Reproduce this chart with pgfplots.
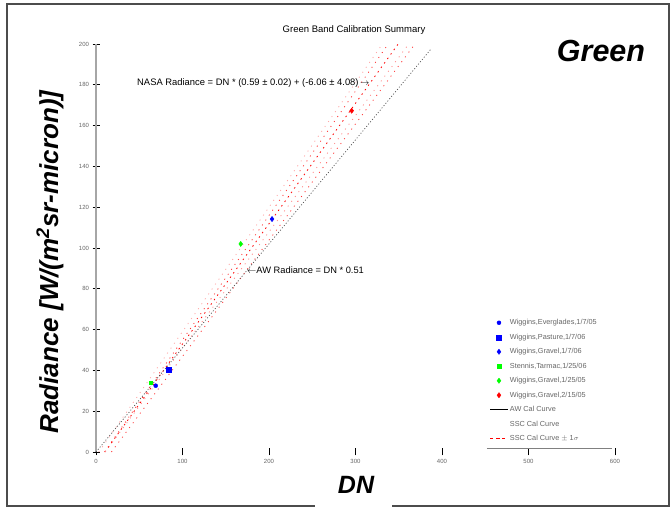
\documentclass[border=0pt]{standalone}
\usepackage{pgfplots}
\pgfplotsset{compat=1.18}
\usepackage{fontspec}
\setmainfont{Liberation Sans}
\begin{document}
\begin{tikzpicture}
\useasboundingbox (0pt,0pt) rectangle (671pt,508pt);
\fill[white] (0pt,0pt) rectangle (671pt,508pt);
\draw[black!70, line width=1.2pt] (7pt,2pt) rectangle (669pt,504pt);
\fill[white] (315pt,0pt) rectangle (392pt,4pt);
\node[font=\fontsize{9.5}{11}\selectfont] at (354pt,478pt) {Green Band Calibration Summary};
\node[font=\fontsize{30.5}{33}\bfseries\itshape] at (601pt,457pt) {Green};
\node[font=\fontsize{26}{29}\bfseries\itshape, rotate=90] at (50pt,246pt) {Radiance [W/(m\textsuperscript{2}sr-micron)]};
\node[font=\fontsize{25}{28}\bfseries\itshape] at (356pt,23pt) {DN};
\begin{axis}[
  at={(96pt,56pt)}, anchor=origin,
  scale only axis, width=519pt, height=408pt,
  xmin=0, xmax=600, ymin=0, ymax=200,
  axis x line*=bottom, axis y line*=left,
  x axis line style={draw=none},
  y axis line style={draw=gray!70, line width=1.5pt},
  tick align=center, major tick length=7pt,
  every tick/.style={black, line width=0.6pt},
  xtick={0,100,...,600}, ytick={0,20,...,200},
  tick label style={font=\fontsize{6}{7}\selectfont, text=black!60},
  /pgf/number format/assume math mode=true,
  clip=false,
  legend style={at={(rel axis cs:0.755,0.014)}, anchor=south west, draw=none, fill=none,
    font=\fontsize{7.3}{8}\selectfont, text=black!60, row sep=3.7pt, inner sep=2pt},
  legend cell align=left,
]
% SSC calibration curves (center and +/- 1 sigma)
\addplot[forget plot, red!35, line width=0.8pt, dash pattern=on 1pt off 5pt] coordinates {(3.25,0) (331.1,200)};
\addplot[forget plot, red!80, line width=0.8pt, dash pattern=on 1pt off 5pt] coordinates {(9.93,0) (337.8,200)};
\addplot[forget plot, red, line width=0.8pt, dash pattern=on 1.5pt off 4pt] coordinates {(10.27,0) (349.3,200)};
\addplot[forget plot, red!45, line width=0.8pt, dash pattern=on 1pt off 5pt] coordinates {(10.63,0) (361.5,200)};
\addplot[forget plot, red!80, line width=0.8pt, dash pattern=on 1pt off 5pt] coordinates {(17.79,0) (368.7,200)};
% AW calibration curve
\addplot[forget plot, black!70, line width=0.7pt, dash pattern=on 1pt off 2pt] coordinates {(0,0) (388,197.9)};
% measurements
\addplot[only marks, mark=*, mark size=2pt, blue] coordinates {(69,32.5)};
\addplot[only marks, mark=square*, mark size=2.5pt, blue] coordinates {(84.4,40.2)};
\addplot[only marks, mark=diamond*, mark size=2.6pt, blue] coordinates {(203.5,114.2)};
\addplot[only marks, mark=square*, mark size=1.8pt, green] coordinates {(63.2,34)};
\addplot[only marks, mark=diamond*, mark size=2.6pt, green] coordinates {(167.3,102)};
\addplot[only marks, mark=diamond*, mark size=2.6pt, red] coordinates {(295.6,167.3)};
\addlegendimage{draw=black, line width=0.6pt}
\addlegendimage{draw=white}
\addlegendimage{draw=red, dash pattern=on 3pt off 3pt, line width=0.8pt}
\legend{{Wiggins,Everglades,1/7/05}, {Wiggins,Pasture,1/7/06}, {Wiggins,Gravel,1/7/06}, {Stennis,Tarmac,1/25/06}, {Wiggins,Gravel,1/25/05}, {Wiggins,Gravel,2/15/05}, {AW Cal Curve}, {SSC Cal Curve}, {SSC Cal Curve $\pm$ 1$\sigma$}}
\node[anchor=west, font=\fontsize{9.4}{11}\selectfont, inner sep=0pt] at (axis cs:47.4,180.9) {NASA Radiance = DN * (0.59 ± 0.02) + (-6.06 ± 4.08)\,$\rightarrow$};
\node[anchor=west, font=\fontsize{9.3}{11}\selectfont, inner sep=0pt] at (axis cs:174.6,89.2) {$\leftarrow$AW Radiance = DN * 0.51};
\draw[gray, line width=1.5pt] (rel axis cs:0.753,0.008) -- (rel axis cs:0.995,0.008);
\end{axis}
\end{tikzpicture}
\end{document}
